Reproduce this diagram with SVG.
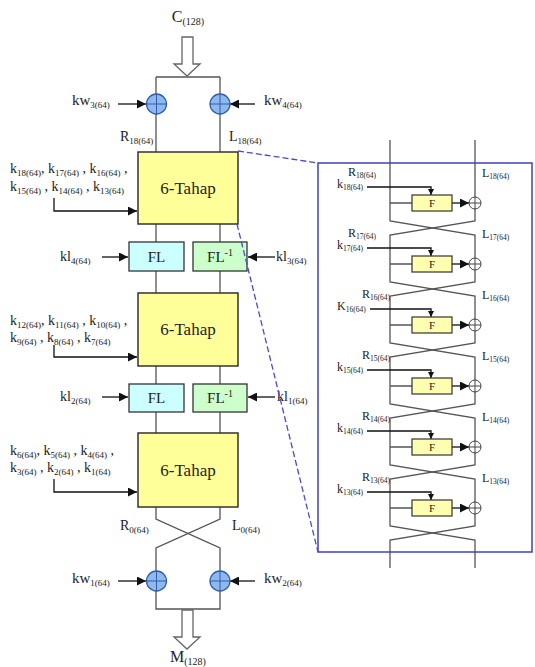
<svg xmlns="http://www.w3.org/2000/svg" width="535" height="667" viewBox="0 0 535 667">
<defs>
<style>
.t{font-family:"Liberation Serif","Times New Roman",serif;fill:#222}
.ln{stroke:#555;stroke-width:1.3;fill:none}
.ar{stroke:#111;stroke-width:1.3;fill:none}
.tahap{fill:#ffff99;stroke:#333;stroke-width:1.5}
.fl{fill:#ccffff;stroke:#333;stroke-width:1.3}
.fli{fill:#ccffcc;stroke:#333;stroke-width:1.3}
.xb{fill:#8fb8ee;stroke:#2f5fa8;stroke-width:1.3}
.xbp{stroke:#2f5fa8;stroke-width:1}
.fbox{fill:#ffffb0;stroke:#333;stroke-width:1.2}
.xr{fill:#fff;stroke:#444;stroke-width:1}
.dash{stroke:#4a4ad0;stroke-width:1.3;stroke-dasharray:6 3;fill:none}
</style>
<marker id="ah" viewBox="0 0 10 10" refX="10" refY="5" markerWidth="10" markerHeight="9" orient="auto" markerUnits="userSpaceOnUse"><path d="M0,0 L10,5 L0,10 z" fill="#111"/></marker>
<marker id="ahs" viewBox="0 0 10 10" refX="10" refY="5" markerWidth="6" markerHeight="6" orient="auto" markerUnits="userSpaceOnUse"><path d="M0,0 L10,5 L0,10 z" fill="#111"/></marker>
<marker id="ahm" viewBox="0 0 10 10" refX="10" refY="5" markerWidth="10" markerHeight="9" orient="auto" markerUnits="userSpaceOnUse"><path d="M0,0 L10,5 L0,10 z" fill="#111"/></marker>
</defs>
<rect width="535" height="667" fill="#fff"/>

<g id="connectors">
<path class="ln" d="M156,77 H220 M156,77 V94 M220,77 V94 M156,114 V152 M220,114 V152"/>
<path class="ln" d="M156,224 V242 M220,224 V242 M156,271 V293 M220,271 V293 M156,366 V384 M220,366 V384 M156,412 V433 M220,412 V433"/>
<path class="ln" d="M156,507 V519 L220,548 V571 M220,507 V519 L156,548 V571 M156,591 V609 H220 V591"/>
<path class="ar" d="M118,104 H146" marker-end="url(#ah)"/>
<path class="ar" d="M255,104 H230" marker-end="url(#ah)"/>
<path class="ar" d="M118,581 H146" marker-end="url(#ah)"/>
<path class="ar" d="M255,581 H230" marker-end="url(#ah)"/>
<path class="ar" d="M102,257 H128" marker-end="url(#ah)"/>
<path class="ar" d="M275,257 H248" marker-end="url(#ah)"/>
<path class="ar" d="M102,397 H128" marker-end="url(#ah)"/>
<path class="ar" d="M275,397 H248" marker-end="url(#ah)"/>
<path class="ar" d="M54,198 V211 H137" marker-end="url(#ah)"/>
<path class="ar" d="M54,345 V357 H137" marker-end="url(#ah)"/>
<path class="ar" d="M54,479 V492 H137" marker-end="url(#ah)"/>
<!-- right panel lines -->
<path class="ln" d="M390,140 V221 L475,235 V282 L390,296 V343 L475,357 V404 L390,418 V465 L475,479 V526 L390,540 V568"/>
<path class="ln" d="M475,140 V221 L390,235 V282 L475,296 V343 L390,357 V404 L475,418 V465 L390,479 V526 L475,540 V568"/>
<path class="ln" d="M390,203 H412 M390,264 H412 M390,325 H412 M390,386 H412 M390,447 H412 M390,508 H412"/>
<path class="ar" stroke-width="1" d="M367,187 H431 V195" marker-end="url(#ahs)"/>
<path class="ar" stroke-width="1" d="M367,248 H431 V256" marker-end="url(#ahs)"/>
<path class="ar" stroke-width="1" d="M370,309 H431 V317" marker-end="url(#ahs)"/>
<path class="ar" stroke-width="1" d="M367,370 H431 V378" marker-end="url(#ahs)"/>
<path class="ar" stroke-width="1" d="M367,431 H431 V439" marker-end="url(#ahs)"/>
<path class="ar" stroke-width="1" d="M367,492 H431 V500" marker-end="url(#ahs)"/>
<path class="ar" d="M452,203 H469" marker-end="url(#ahm)"/>
<path class="ar" d="M452,264 H469" marker-end="url(#ahm)"/>
<path class="ar" d="M452,325 H469" marker-end="url(#ahm)"/>
<path class="ar" d="M452,386 H469" marker-end="url(#ahm)"/>
<path class="ar" d="M452,447 H469" marker-end="url(#ahm)"/>
<path class="ar" d="M452,508 H469" marker-end="url(#ahm)"/>
</g>

<g id="input">
<polygon points="182,37 193,37 193,64 200,64 187,76 174,64 182,64" fill="#fff" stroke="#666" stroke-width="1.3"/>
<text class="t" x="188" y="22" text-anchor="middle" font-size="16">C<tspan font-size="10" dy="3">(128)</tspan></text>
</g>
<g id="output">
<polygon points="182,610 193,610 193,637 200,637 187,649 174,637 182,637" fill="#fff" stroke="#666" stroke-width="1.3"/>
<text class="t" x="188" y="662" text-anchor="middle" font-size="16">M<tspan font-size="10" dy="3">(128)</tspan></text>
</g>

<g id="xor-kw3"><circle class="xb" cx="156.5" cy="104" r="10"/><path class="xbp" d="M146.5,104 H166.5 M156.5,94 V114"/></g>
<g id="xor-kw4"><circle class="xb" cx="220" cy="104" r="10"/><path class="xbp" d="M210,104 H230 M220,94 V114"/></g>
<g id="xor-kw1"><circle class="xb" cx="156.5" cy="581" r="10"/><path class="xbp" d="M146.5,581 H166.5 M156.5,571 V591"/></g>
<g id="xor-kw2"><circle class="xb" cx="220" cy="581" r="10"/><path class="xbp" d="M210,581 H230 M220,571 V591"/></g>

<g id="labels-left" class="t">
<text x="72" y="105" font-size="15">kw<tspan font-size="9" dy="3">3(64)</tspan></text>
<text x="264" y="105" font-size="15">kw<tspan font-size="9" dy="3">4(64)</tspan></text>
<text x="72" y="583" font-size="15">kw<tspan font-size="9" dy="3">1(64)</tspan></text>
<text x="264" y="583" font-size="15">kw<tspan font-size="9" dy="3">2(64)</tspan></text>
<text x="120" y="141" font-size="14">R<tspan font-size="9" dy="3">18(64)</tspan></text>
<text x="229" y="141" font-size="14">L<tspan font-size="9" dy="3">18(64)</tspan></text>
<text x="120" y="530" font-size="14">R<tspan font-size="9" dy="3">0(64)</tspan></text>
<text x="232" y="530" font-size="14">L<tspan font-size="9" dy="3">0(64)</tspan></text>
<text x="60" y="261" font-size="14">kl<tspan font-size="9" dy="3">4(64)</tspan></text>
<text x="276" y="261" font-size="14">kl<tspan font-size="9" dy="3">3(64)</tspan></text>
<text x="60" y="401" font-size="14">kl<tspan font-size="9" dy="3">2(64)</tspan></text>
<text x="277" y="401" font-size="14">kl<tspan font-size="9" dy="3">1(64)</tspan></text>
<text x="10" y="173" font-size="14">k<tspan font-size="9" dy="3">18(64)</tspan><tspan dy="-3">, k</tspan><tspan font-size="9" dy="3">17(64)</tspan><tspan dy="-3"> , k</tspan><tspan font-size="9" dy="3">16(64)</tspan><tspan dy="-3"> ,</tspan></text>
<text x="10" y="191" font-size="14">k<tspan font-size="9" dy="3">15(64)</tspan><tspan dy="-3"> , k</tspan><tspan font-size="9" dy="3">14(64)</tspan><tspan dy="-3"> , k</tspan><tspan font-size="9" dy="3">13(64)</tspan></text>
<text x="10" y="325" font-size="14">k<tspan font-size="9" dy="3">12(64)</tspan><tspan dy="-3">, k</tspan><tspan font-size="9" dy="3">11(64)</tspan><tspan dy="-3"> , k</tspan><tspan font-size="9" dy="3">10(64)</tspan><tspan dy="-3"> ,</tspan></text>
<text x="10" y="342" font-size="14">k<tspan font-size="9" dy="3">9(64)</tspan><tspan dy="-3"> , k</tspan><tspan font-size="9" dy="3">8(64)</tspan><tspan dy="-3"> , k</tspan><tspan font-size="9" dy="3">7(64)</tspan></text>
<text x="10" y="455" font-size="14">k<tspan font-size="9" dy="3">6(64)</tspan><tspan dy="-3">, k</tspan><tspan font-size="9" dy="3">5(64)</tspan><tspan dy="-3"> , k</tspan><tspan font-size="9" dy="3">4(64)</tspan><tspan dy="-3"> ,</tspan></text>
<text x="10" y="472" font-size="14">k<tspan font-size="9" dy="3">3(64)</tspan><tspan dy="-3"> , k</tspan><tspan font-size="9" dy="3">2(64)</tspan><tspan dy="-3"> , k</tspan><tspan font-size="9" dy="3">1(64)</tspan></text>
</g>

<g id="tahap1"><rect class="tahap" x="138" y="152" width="100" height="72"/><text class="t" x="188" y="194" text-anchor="middle" font-size="17">6-Tahap</text></g>
<g id="tahap2"><rect class="tahap" x="138" y="293" width="100" height="73"/><text class="t" x="188" y="335" text-anchor="middle" font-size="17">6-Tahap</text></g>
<g id="tahap3"><rect class="tahap" x="138" y="433" width="100" height="74"/><text class="t" x="188" y="476" text-anchor="middle" font-size="17">6-Tahap</text></g>

<g id="fl1"><rect class="fl" x="129" y="242" width="55" height="29"/><text class="t" x="156.5" y="262" text-anchor="middle" font-size="15">FL</text></g>
<g id="fli1"><rect class="fli" x="193" y="242" width="54" height="29"/><text class="t" x="220" y="262" text-anchor="middle" font-size="15">FL<tspan font-size="10" dy="-6">-1</tspan></text></g>
<g id="fl2"><rect class="fl" x="129" y="384" width="55" height="28"/><text class="t" x="156.5" y="403" text-anchor="middle" font-size="15">FL</text></g>
<g id="fli2"><rect class="fli" x="193" y="384" width="54" height="28"/><text class="t" x="220" y="403" text-anchor="middle" font-size="15">FL<tspan font-size="10" dy="-6">-1</tspan></text></g>

<g id="detail-frame">
<rect x="318" y="163" width="214" height="389" fill="none" stroke="#4040c0" stroke-width="1.5"/>
<path class="dash" d="M238,151 L318,163 M237,224 L318,552"/>
</g>

<g id="round1" class="t">
<rect class="fbox" x="412" y="195" width="40" height="16"/><text x="432" y="207" text-anchor="middle" font-size="11">F</text>
<circle class="xr" cx="475" cy="203" r="6"/><path stroke="#444" stroke-width="1" d="M469,203 H481 M475,197 V209"/>
<text x="348" y="176" font-size="12">R<tspan font-size="7.5" dy="2">18(64)</tspan></text>
<text x="337" y="188" font-size="12">k<tspan font-size="7.5" dy="2">18(64)</tspan></text>
<text x="482" y="177" font-size="12">L<tspan font-size="7.5" dy="2">18(64)</tspan></text>
</g>
<g id="round2" class="t">
<rect class="fbox" x="412" y="256" width="40" height="16"/><text x="432" y="268" text-anchor="middle" font-size="11">F</text>
<circle class="xr" cx="475" cy="264" r="6"/><path stroke="#444" stroke-width="1" d="M469,264 H481 M475,258 V270"/>
<text x="348" y="237" font-size="12">R<tspan font-size="7.5" dy="2">17(64)</tspan></text>
<text x="337" y="249" font-size="12">k<tspan font-size="7.5" dy="2">17(64)</tspan></text>
<text x="482" y="238" font-size="12">L<tspan font-size="7.5" dy="2">17(64)</tspan></text>
</g>
<g id="round3" class="t">
<rect class="fbox" x="412" y="317" width="40" height="16"/><text x="432" y="329" text-anchor="middle" font-size="11">F</text>
<circle class="xr" cx="475" cy="325" r="6"/><path stroke="#444" stroke-width="1" d="M469,325 H481 M475,319 V331"/>
<text x="362" y="298" font-size="12">R<tspan font-size="7.5" dy="2">16(64)</tspan></text>
<text x="337" y="310" font-size="12">K<tspan font-size="7.5" dy="2">16(64)</tspan></text>
<text x="482" y="299" font-size="12">L<tspan font-size="7.5" dy="2">16(64)</tspan></text>
</g>
<g id="round4" class="t">
<rect class="fbox" x="412" y="378" width="40" height="16"/><text x="432" y="390" text-anchor="middle" font-size="11">F</text>
<circle class="xr" cx="475" cy="386" r="6"/><path stroke="#444" stroke-width="1" d="M469,386 H481 M475,380 V392"/>
<text x="362" y="359" font-size="12">R<tspan font-size="7.5" dy="2">15(64)</tspan></text>
<text x="337" y="371" font-size="12">k<tspan font-size="7.5" dy="2">15(64)</tspan></text>
<text x="482" y="360" font-size="12">L<tspan font-size="7.5" dy="2">15(64)</tspan></text>
</g>
<g id="round5" class="t">
<rect class="fbox" x="412" y="439" width="40" height="16"/><text x="432" y="451" text-anchor="middle" font-size="11">F</text>
<circle class="xr" cx="475" cy="447" r="6"/><path stroke="#444" stroke-width="1" d="M469,447 H481 M475,441 V453"/>
<text x="362" y="420" font-size="12">R<tspan font-size="7.5" dy="2">14(64)</tspan></text>
<text x="337" y="432" font-size="12">k<tspan font-size="7.5" dy="2">14(64)</tspan></text>
<text x="482" y="421" font-size="12">L<tspan font-size="7.5" dy="2">14(64)</tspan></text>
</g>
<g id="round6" class="t">
<rect class="fbox" x="412" y="500" width="40" height="16"/><text x="432" y="512" text-anchor="middle" font-size="11">F</text>
<circle class="xr" cx="475" cy="508" r="6"/><path stroke="#444" stroke-width="1" d="M469,508 H481 M475,502 V514"/>
<text x="362" y="481" font-size="12">R<tspan font-size="7.5" dy="2">13(64)</tspan></text>
<text x="337" y="493" font-size="12">k<tspan font-size="7.5" dy="2">13(64)</tspan></text>
<text x="482" y="482" font-size="12">L<tspan font-size="7.5" dy="2">13(64)</tspan></text>
</g>
</svg>
